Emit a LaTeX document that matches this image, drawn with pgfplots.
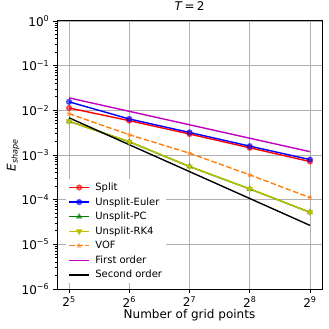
\documentclass[border=0pt]{standalone}
\usepackage{fontspec}
\setmainfont{DejaVu Sans}
\usepackage{pgfplots}
\pgfplotsset{compat=1.18}

\definecolor{mred}{rgb}{1,0,0}
\definecolor{mblue}{rgb}{0,0,1}
\definecolor{mgreen}{rgb}{0,0.5,0}
\definecolor{myellow}{rgb}{0.75,0.75,0}
\definecolor{morange}{HTML}{FF7F0E}
\definecolor{mmagenta}{rgb}{0.75,0,0.75}
\definecolor{mgrid}{HTML}{B0B0B0}

\begin{document}
\begin{tikzpicture}
\begin{axis}[
  at={(0,0)}, anchor=south west,
  scale only axis, width=265pt, height=268pt,
  xmode=log, log basis x=2, ymode=log,
  xmin=27.86, xmax=588.1, ymin=1e-6, ymax=1,
  xtick={32,64,128,256,512},
  xticklabels={2\textsuperscript{5},2\textsuperscript{6},2\textsuperscript{7},2\textsuperscript{8},2\textsuperscript{9}},
  ytick={1e-6,1e-5,1e-4,1e-3,1e-2,1e-1,1},
  yticklabels={10\textsuperscript{−6},10\textsuperscript{−5},10\textsuperscript{−4},10\textsuperscript{−3},10\textsuperscript{−2},10\textsuperscript{−1},10\textsuperscript{0}},
  xminorticks=false,
  tick align=outside, tick pos=left,
  major tick length=4.2pt, minor tick length=2.4pt,
  every tick/.style={black, line width=0.9pt},
  axis line style={line width=1pt},
  grid=major, major grid style={mgrid, line width=0.9pt},
  tick label style={font=\fontsize{12}{14}\selectfont},
  xlabel={Number of grid points},
  ylabel={\textit{E}\textsubscript{\textit{shape}}},
  title={\textit{T}\,=\,2},
  label style={font=\fontsize{12}{14}\selectfont},
  title style={font=\fontsize{12}{14}\selectfont, at={(axis description cs:0.5,1.032)}, anchor=center},
  x label style={at={(axis description cs:0.5,-0.097)}, anchor=center},
  y label style={at={(axis description cs:-0.166,0.5)}, anchor=center},
  every axis plot/.append style={line width=1.4pt, mark size=2.4pt, mark options={solid, fill opacity=0.5, draw opacity=0.6}},
  legend cell align=left,
  legend style={at={(axis description cs:0.035,0.02)}, anchor=south west, draw=none, fill=white,
    font=\fontsize{10}{12}\selectfont, row sep=1.5pt, inner sep=2pt,
    /tikz/every odd column/.append style={column sep=3.5pt}},
  legend image code/.code={\draw[mark repeat=2,mark phase=2] plot coordinates {(0pt,0pt) (10pt,0pt) (20pt,0pt)};},
]
\addplot[mred, mark=*] coordinates {(32,0.0113)(64,0.00587)(128,0.00295)(256,0.00145)(512,0.000714)};
\addlegendentry{Split}
\addplot[mblue, mark=*] coordinates {(32,0.0155)(64,0.0064)(128,0.0032)(256,0.00158)(512,0.00079)};
\addlegendentry{Unsplit-Euler}
\addplot[mgreen, mark=triangle*] coordinates {(32,0.00566)(64,0.00198)(128,0.000552)(256,0.000174)(512,0.0000521)};
\addlegendentry{Unsplit-PC}
\addplot[myellow, mark=triangle*, mark options={rotate=180}] coordinates {(32,0.00566)(64,0.00198)(128,0.000552)(256,0.000174)(512,0.0000521)};
\addlegendentry{Unsplit-RK4}
\addplot[morange, dash pattern=on 5.5pt off 2.4pt, mark=star] coordinates {(32,0.00843)(64,0.00284)(128,0.0011)(256,0.000359)(512,0.000111)};
\addlegendentry{VOF}
\addplot[mmagenta, no markers] coordinates {(32,0.019)(64,0.0095)(128,0.00475)(256,0.002375)(512,0.0011875)};
\addlegendentry{First order}
\addplot[black, no markers] coordinates {(32,0.0068)(64,0.0017)(128,0.000425)(256,0.00010625)(512,0.0000265625)};
\addlegendentry{Second order}
\end{axis}
\pgfresetboundingbox
\useasboundingbox (-57pt,-40pt) rectangle (272pt,289pt);
\end{tikzpicture}
\end{document}
